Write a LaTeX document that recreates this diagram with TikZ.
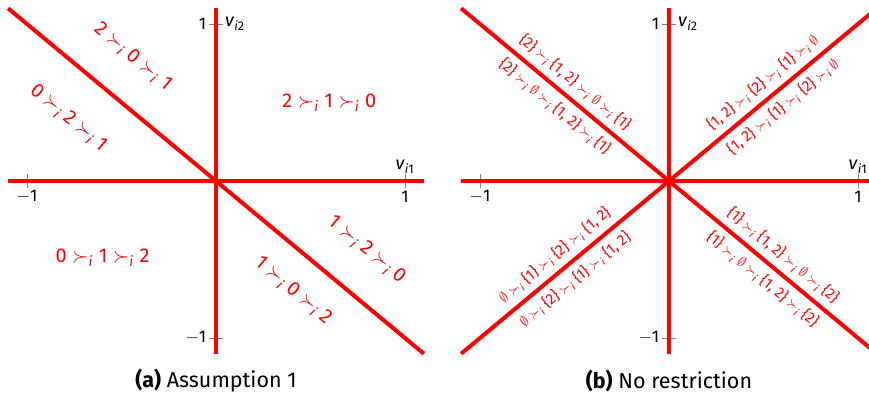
\documentclass[tikz,border=0pt]{standalone}
\usepackage{amsmath}
\usepackage{fontspec}
\setmainfont{Fira Sans}
\usetikzlibrary{positioning}
\definecolor{prefred}{HTML}{FF0000}
\newcommand{\pr}{$\;\succ_{\textit{i}}\;$}
\newcommand{\es}{$\emptyset$}
\newcommand{\st}[1]{\{#1\}}

\begin{document}
\begin{tikzpicture}[
  axisline/.style={line width=4pt,prefred},
  tickmark/.style={gray,line width=0.6pt},
  ticklbl/.style={font=\fontsize{17}{19}\selectfont,inner sep=0pt},
  axlbl/.style={font=\fontsize{18}{20}\selectfont,inner sep=0pt},
  lbl/.style={text=prefred,font=\fontsize{20}{22}\selectfont,inner sep=0pt},
  setlbl/.style={text=prefred,font=\fontsize{15}{17}\selectfont,inner sep=1pt},
  caption/.style={font=\fontsize{21.5}{24}\selectfont}]
\useasboundingbox (0,0) rectangle (869pt,-394pt);

% (a) Assumption 1
\begin{scope}[shift={(216pt,-181pt)},x=189pt,y=157pt]
\coordinate (ao) at (0,0);
\draw[tickmark] (-1,-0.045) -- (-1,0.045);
\draw[tickmark] (1,-0.045) -- (1,0.045);
\draw[tickmark] (-0.037,1) -- (0.037,1);
\draw[tickmark] (-0.037,-1) -- (0.037,-1);
\draw[axisline] (-1.1,0) -- (1.1,0);
\draw[axisline] (0,-1.1) -- (0,1.1);
\draw[axisline] (-1.1,1.1) -- (1.1,-1.1);
\node[ticklbl] (axm) at (-1,-0.1) {$-$1};
\node[ticklbl] (axp) at (1,-0.1) {1};
\node[ticklbl,anchor=east] (aym) at (-0.05,-1) {$-$1};
\node[ticklbl,anchor=east] (ayp) at (-0.05,1) {1};
\node[axlbl] (av1) at (1.0,0.09) {\textit{v}$_{\textit{i}\textup{1}}$};
\node[axlbl] (av2) at (0.1,1.0) {\textit{v}$_{\textit{i}\textup{2}}$};
\node[lbl,rotate=-39.7] (a201) at (-0.44,0.79) {2\pr0\pr1};
\node[lbl,rotate=-39.7] (a021) at (-0.78,0.40) {0\pr2\pr1};
\node[lbl] (a210) at (0.60,0.50) {2\pr1\pr0};
\node[lbl] (a012) at (-0.60,-0.49) {0\pr1\pr2};
\node[lbl,rotate=-39.7] (a120) at (0.80,-0.44) {1\pr2\pr0};
\node[lbl,rotate=-39.7] (a102) at (0.41,-0.70) {1\pr0\pr2};
\end{scope}

% (b) No restriction
\begin{scope}[shift={(669pt,-181pt)},x=189pt,y=157pt]
\coordinate (bo) at (0,0);
\coordinate (bnw) at (-1.1,1.1);
\coordinate (bne) at (1.1,1.1);
\coordinate (bsw) at (-1.1,-1.1);
\coordinate (bse) at (1.1,-1.1);
\draw[tickmark] (-1,-0.045) -- (-1,0.045);
\draw[tickmark] (1,-0.045) -- (1,0.045);
\draw[tickmark] (-0.037,1) -- (0.037,1);
\draw[tickmark] (-0.037,-1) -- (0.037,-1);
\draw[axisline] (-1.1,0) -- (1.1,0);
\draw[axisline] (0,-1.1) -- (0,1.1);
\draw[axisline] (bnw) -- (bo)
  node[setlbl,midway,sloped,above=5pt] {\st{2}\pr\st{1, 2}\pr\es\pr\st{1}}
  node[setlbl,midway,sloped,below=5pt] {\st{2}\pr\es\pr\st{1, 2}\pr\st{1}};
\draw[axisline] (bo) -- (bne)
  node[setlbl,midway,sloped,above=5pt] {\st{1, 2}\pr\st{2}\pr\st{1}\pr\es}
  node[setlbl,midway,sloped,below=5pt] {\st{1, 2}\pr\st{1}\pr\st{2}\pr\es};
\draw[axisline] (bsw) -- (bo)
  node[setlbl,midway,sloped,above=5pt] {\es\pr\st{1}\pr\st{2}\pr\st{1, 2}}
  node[setlbl,midway,sloped,below=5pt] {\es\pr\st{2}\pr\st{1}\pr\st{1, 2}};
\draw[axisline] (bo) -- (bse)
  node[setlbl,midway,sloped,above=5pt] {\st{1}\pr\st{1, 2}\pr\es\pr\st{2}}
  node[setlbl,midway,sloped,below=5pt] {\st{1}\pr\es\pr\st{1, 2}\pr\st{2}};
\node[ticklbl] (bxm) at (-1,-0.1) {$-$1};
\node[ticklbl] (bxp) at (1,-0.1) {1};
\node[ticklbl,anchor=east] (bym) at (-0.05,-1) {$-$1};
\node[ticklbl,anchor=east] (byp) at (-0.05,1) {1};
\node[axlbl] (bv1) at (1.0,0.09) {\textit{v}$_{\textit{i}\textup{1}}$};
\node[axlbl] (bv2) at (0.1,1.0) {\textit{v}$_{\textit{i}\textup{2}}$};
\end{scope}

\node[caption] (capa) at (216pt,-381pt) {\textbf{(a)} Assumption 1};
\node[caption] (capb) at (669pt,-381pt) {\textbf{(b)} No restriction};
\end{tikzpicture}
\end{document}
